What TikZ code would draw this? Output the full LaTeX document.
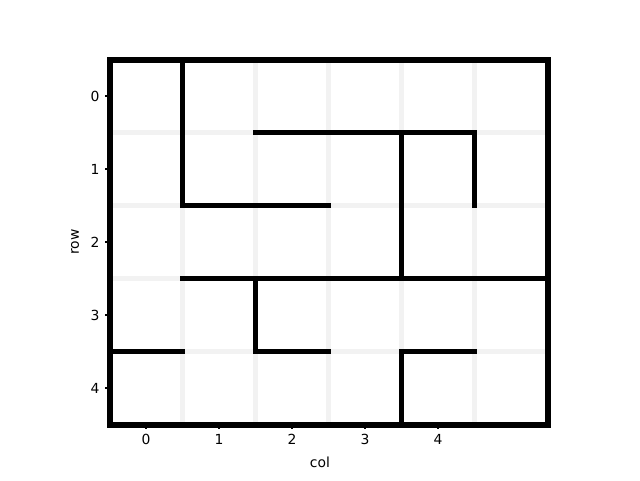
\documentclass[tikz,border=0pt]{standalone}
\usepackage{fontspec}
\setmainfont{DejaVu Sans}
\begin{document}
\begin{tikzpicture}[x=1pt,y=-1pt,
  gridline/.style={draw=black!5,line width=4.5pt},
  wall/.style={draw=black,line width=4.4pt,line cap=rect},
  border/.style={draw=black,line width=6pt},
  tick/.style={draw=black,line width=1.1pt},
  ticklabel/.style={font=\fontsize{13.9}{16}\selectfont,inner sep=0pt}]
\useasboundingbox[fill=white] (0,0) rectangle (640,480);
\begin{scope}[shift={(109.5,59.5)},x=73pt,y=-73pt]
  % faint grid
  \foreach \i in {1,...,5} \draw[gridline] (\i,0) -- (\i,5);
  \foreach \j in {1,...,4} \draw[gridline] (0,\j) -- (6,\j);
  % ticks
  \foreach \c in {0,...,4} {
    \coordinate (xt\c) at (\c+0.5,5);
    \draw[tick] (xt\c) -- ++(0,0.067);
    \node[ticklabel,anchor=north] (xl\c) at ([yshift=-9.8pt]xt\c) {\c};
  }
  \foreach \r in {0,...,4} {
    \coordinate (yt\r) at (0,\r+0.5);
    \draw[tick] (yt\r) -- ++(-0.067,0);
    \node[ticklabel,anchor=east] (yl\r) at ([xshift=-9.8pt]yt\r) {\r};
  }
  % walls
  \draw[wall] (1,0) -- (1,2);
  \draw[wall] (2,1) -- (5,1);
  \draw[wall] (4,1) -- (4,3);
  \draw[wall] (5,1) -- (5,2);
  \draw[wall] (1,2) -- (3,2);
  \draw[wall] (1,3) -- (6,3);
  \draw[wall] (2,3) -- (2,4);
  \draw[wall] (0,4) -- (1,4);
  \draw[wall] (2,4) -- (3,4);
  \draw[wall] (4,4) -- (5,4);
  \draw[wall] (4,4) -- (4,5);
  % border
  \draw[border] (0,0) rectangle (6,5);
\end{scope}
\node[ticklabel] (xlab) at (320,462) {col};
\node[ticklabel,rotate=90] (ylab) at (75,242) {row};
\end{tikzpicture}
\end{document}
